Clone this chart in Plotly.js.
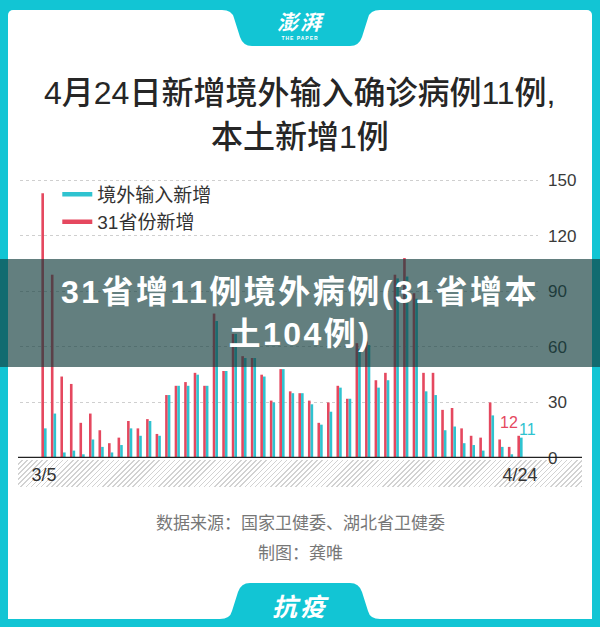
<!DOCTYPE html>
<html>
<head>
<meta charset="utf-8">
<script src="https://cdn.plot.ly/plotly-3.0.1.min.js"></script>
<style>
  html, body { margin: 0; padding: 0; }
  body {
    width: 600px; height: 627px; overflow: hidden; position: relative;
    background: #12c5d4;
    font-family: "Liberation Sans", "Noto Sans CJK SC", sans-serif;
  }
  .card {
    position: absolute; left: 8px; top: 10px; width: 584px; height: 609px;
    background: #fff; border-radius: 5px 5px 0 0;
  }
  .hatch {
    position: absolute; left: 18px; top: 460px; width: 564px; height: 27px;
    background: repeating-linear-gradient(135deg, #fff 0px, #fff 2.5px, #d2d2d2 2.5px, #d2d2d2 3.6px);
  }
  .tabs { position: absolute; left: 0; top: 0; }
  .logo {
    position: absolute; left: 0; width: 600px; top: 9px; text-align: center;
    color: #fff; font-family: "Noto Sans CJK SC"; font-weight: bold; font-size: 21px;
    font-style: italic; letter-spacing: 2px; line-height: 25px;
  }
  .logo small {
    display: block; font-family: "Liberation Sans"; font-size: 5px; line-height: 7px;
    letter-spacing: 1px; font-style: normal; margin-top: 1px;
  }
  .kangyi {
    position: absolute; left: 0; width: 600px; top: 590px; text-align: center;
    color: #fff; font-family: "Noto Sans CJK SC"; font-weight: bold; font-size: 25px;
    font-style: italic; letter-spacing: 3px; line-height: 30px;
  }
  #chart { position: absolute; left: 0; top: 0; width: 600px; height: 627px; }
  .band {
    position: absolute; left: 0; top: 259px; width: 600px; height: 108px;
    background: rgba(18, 60, 60, 0.66); color: #fff; text-align: center;
    font-family: "Liberation Sans", "Noto Sans CJK SC"; font-weight: bold;
    font-size: 32px; letter-spacing: 2.5px; line-height: 42px; padding-top: 12px;
    box-sizing: border-box;
  }
</style>
</head>
<body>
<div class="card"></div>
<div class="hatch"></div>
<svg class="tabs" width="600" height="627">
  <path d="M 222 10 Q 232 10 234 18 L 240 37 Q 243 46 252 46 L 350 46 Q 359 46 362 37 L 368 18 Q 370 10 380 10 Z" fill="#12c5d4"/>
  <path d="M 220 619 Q 230 619 232 611 L 238 592 Q 241 583 250 583 L 350 583 Q 359 583 362 592 L 368 611 Q 370 619 380 619 Z" fill="#12c5d4"/>
</svg>
<div class="logo">澎湃<small>THE PAPER</small></div>
<div class="kangyi">抗疫</div>
<div id="chart"></div>
<div class="band">31省增11例境外病例(31省增本<br>土104例)</div>
<script>
var dates = ['3/5','3/6','3/7','3/8','3/9','3/10','3/11','3/12','3/13','3/14',
    '3/15','3/16','3/17','3/18','3/19','3/20','3/21','3/22','3/23','3/24',
    '3/25','3/26','3/27','3/28','3/29','3/30','3/31',
    '4/1','4/2','4/3','4/4','4/5','4/6','4/7','4/8','4/9','4/10',
    '4/11','4/12','4/13','4/14','4/15','4/16','4/17','4/18','4/19','4/20',
    '4/21','4/22','4/23','4/24'];

// 31省份新增
var provNew = [143, 99, 44, 40, 19, 24, 15, 8, 11, 20,
    16, 21, 13, 34, 39, 41, 46, 39, 78, 47,
    67, 55, 54, 45, 31, 48, 36,
    35, 31, 19, 30, 39, 32, 62, 63, 42, 46,
    99, 108, 89, 46, 46, 26, 27, 16, 12, 11,
    30, 10, 6, 12];

// 境外输入新增
var importNew = [16, 24, 3, 4, 2, 10, 6, 3, 7, 16,
    12, 20, 12, 34, 39, 39, 45, 39, 74, 47,
    67, 54, 54, 44, 30, 48, 35,
    35, 29, 18, 25, 38, 32, 59, 61, 38, 42,
    97, 98, 86, 36, 34, 15, 17, 8, 7, 4,
    23, 6, 2, 11];

var yTicks = [0, 30, 60, 90, 120, 150];
var xTicks = ['3/5', '4/24'];

var titleLines = ['4月24日新增境外输入确诊病例11例,', '本土新增1例'];
var sourceLines = ['数据来源：国家卫健委、湖北省卫健委', '制图：龚唯'];

var RED = '#e5485f';
var CYAN = '#2fc3d0';
var font = '"Liberation Sans", "Noto Sans CJK SC", sans-serif';

var last = dates.length - 1;

var data = [
    {type: 'bar', x: dates, y: provNew, name: '31省份新增', marker: {color: RED},
        showlegend: false, hoverinfo: 'x+y'},
    {type: 'bar', x: dates, y: importNew, name: '境外输入新增', marker: {color: CYAN},
        showlegend: false, hoverinfo: 'x+y'},
    {type: 'scatter', mode: 'lines', x: [null], y: [null], name: '境外输入新增',
        line: {color: CYAN, width: 4.5}},
    {type: 'scatter', mode: 'lines', x: [null], y: [null], name: '31省份新增',
        line: {color: RED, width: 4.5}}
];

var layout = {
    width: 600,
    height: 627,
    margin: {l: 20, r: 62, t: 171, b: 169},
    paper_bgcolor: 'rgba(0,0,0,0)',
    plot_bgcolor: 'rgba(0,0,0,0)',
    font: {family: font, color: '#333'},
    barmode: 'group',
    bargap: 0.45,
    bargroupgap: 0,
    xaxis: {
        type: 'category',
        range: [-2.52, 51.89],
        tickvals: xTicks,
        ticktext: xTicks,
        tickfont: {size: 18, color: '#333'},
        ticklabelstandoff: 4,
        showgrid: false,
        zeroline: false,
        showline: false,
        ticks: ''
    },
    yaxis: {
        side: 'right',
        range: [0, 155],
        tickvals: yTicks,
        tickfont: {size: 17, color: '#3a3a3a'},
        ticklabelstandoff: 9,
        showgrid: true,
        gridcolor: '#cfcfcf',
        gridwidth: 1,
        griddash: '3px,3px',
        zeroline: false,
        showline: false,
        ticks: ''
    },
    legend: {
        x: 0.072, xanchor: 'left',
        y: 0.985, yanchor: 'top',
        bgcolor: 'rgba(0,0,0,0)',
        font: {size: 19, color: '#333'},
        tracegroupgap: 0
    },
    shapes: [
        {type: 'line', xref: 'paper', yref: 'y', x0: -2 / 518, x1: 562 / 518, y0: 0, y1: 0,
            line: {color: '#222', width: 2.6}}
    ],
    annotations: [
        {xref: 'paper', yref: 'paper', x: 280 / 518, y: (458 - 93) / 287, yanchor: 'middle',
            text: titleLines[0], showarrow: false,
            font: {size: 32, color: '#262626', weight: 500}},
        {xref: 'paper', yref: 'paper', x: 280 / 518, y: (458 - 137) / 287, yanchor: 'middle',
            text: titleLines[1], showarrow: false,
            font: {size: 32, color: '#262626', weight: 500}},
        {x: dates[last], y: provNew[last], text: String(provNew[last]), showarrow: false,
            xshift: -11, yshift: 13, font: {size: 16, color: RED}},
        {x: dates[last], y: importNew[last], text: String(importNew[last]), showarrow: false,
            xshift: 7, yshift: 8, font: {size: 16, color: CYAN}},
        {xref: 'paper', yref: 'paper', x: 280 / 518, y: -65 / 287, yanchor: 'middle',
            text: sourceLines[0], showarrow: false,
            font: {size: 17, color: '#777'}},
        {xref: 'paper', yref: 'paper', x: 280 / 518, y: -95 / 287, yanchor: 'middle',
            text: sourceLines[1], showarrow: false,
            font: {size: 17, color: '#777'}}
    ]
};

Plotly.newPlot('chart', data, layout, {displayModeBar: false, staticPlot: true});
</script>
</body>
</html>
